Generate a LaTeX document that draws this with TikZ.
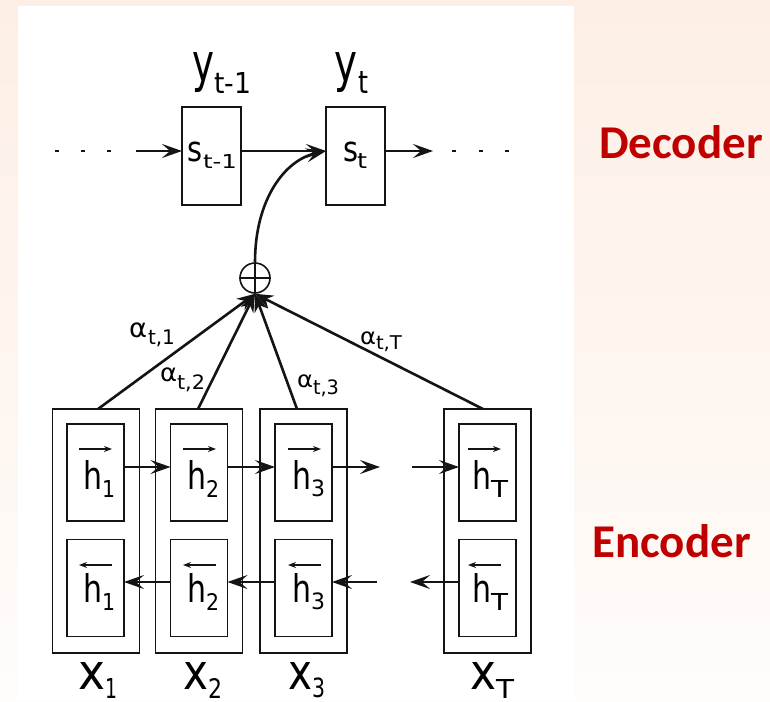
\documentclass[tikz,border=0pt]{standalone}
\usepackage{fontspec}
\setmainfont{DejaVu Sans}
\newfontfamily\carlito{Carlito}
\usetikzlibrary{arrows.meta,calc}
\definecolor{ink}{HTML}{141414}
\definecolor{bgtop}{HTML}{FDEFE5}
\definecolor{bgbot}{HTML}{FFFCFA}
\definecolor{lblred}{HTML}{C00000}
\newcommand\gl[3]{\resizebox*{#1pt}{#2pt}{#3}}
\begin{document}
\begin{tikzpicture}[x=1pt,y=-1pt,
  box/.style={draw=ink, line width=1.9pt, inner sep=0pt, outer sep=0pt},
  sbox/.style={box, minimum width=59pt, minimum height=98pt},
  obox/.style={box, minimum width=87pt, minimum height=244pt},
  ibox/.style={box, minimum width=57pt, minimum height=97pt},
  gly/.style={anchor=south west, inner sep=0pt, outer sep=0pt},
  arr/.style={draw=ink, line width=2.4pt, -{Stealth[length=20pt,width=14pt,inset=8pt]}},
  conv/.style={draw=ink, line width=2.6pt, -{Stealth[length=18pt,width=14pt,inset=6pt]}},
  vec/.style={draw=ink, line width=1.5pt, -{Stealth[length=8pt,width=6pt]}},
  dotst/.style={draw=ink, line width=2.6pt},
  side/.style={anchor=base west, inner sep=0pt, text=lblred, font=\carlito\bfseries\fontsize{47}{47}\selectfont}]
\useasboundingbox (0,0) rectangle (770,701);
\shade[top color=bgtop, bottom color=bgbot] (0,0) rectangle (770,701);
\fill[white] (18,6) rectangle (574,701);

% decoder
\node[sbox] (sA) at (211.5,156) {};
\node[sbox] (sB) at (355.5,156) {};
\node[gly] (lyA) at (192,93) {\gl{22}{40}{y}};
\node[gly] (lyAs) at (214,93) {\gl{37}{21}{t-1}};
\node[gly] (lyB) at (334,93) {\gl{23}{40}{y}};
\node[gly] (lyBs) at (358,93) {\gl{10}{22}{t}};
\node[gly] (lsA) at (187,162) {\gl{15}{20}{s}};
\node[gly] (lsAs) at (203,168) {\gl{34}{14}{t-1}};
\node[gly] (lsB) at (343,162) {\gl{15}{20}{s}};
\node[gly] (lsBs) at (357,168) {\gl{10}{15}{t}};

\coordinate (dl) at (136,151);
\coordinate (dr) at (433,151);
\draw[arr] (dl) -- ([yshift=5pt]sA.west);
\draw[arr] ([yshift=5pt]sA.east) -- ([yshift=5pt]sB.west);
\draw[arr] ([yshift=5pt]sB.east) -- (dr);
\foreach \x in {57,83,109,454,481,507} \draw[dotst] (\x-2,151) -- (\x+2,151);

% plus
\node[circle, draw=ink, line width=1.6pt, minimum size=30pt, inner sep=0pt] (plus) at (255,278) {};
\draw[draw=ink, line width=1.5pt] (plus.north) -- (plus.south) (plus.west) -- (plus.east);
\draw[arr, line width=2.6pt] (plus.north) .. controls +(0,-63) and +(-41,9) .. ([yshift=5pt]sB.west);

% encoder columns
\node[obox] (c1) at (96,531) {};
\node[obox] (c2) at (199,531) {};
\node[obox] (c3) at (303.5,531) {};
\node[obox] (cT) at (487.5,531) {};
\node[ibox] (f1) at (95.5,472.5) {};
\node[ibox] (f2) at (199,472.5) {};
\node[ibox] (f3) at (303.5,472.5) {};
\node[ibox] (fT) at (487.5,472.5) {};
\node[ibox] (b1) at (95.5,588) {};
\node[ibox] (b2) at (199,588) {};
\node[ibox] (b3) at (303.5,588) {};
\node[ibox] (bT) at (487.5,588) {};

% forward / backward arrows
\coordinate (fo) at (380,467);
\coordinate (fi) at (412,467);
\coordinate (bo) at (377,582);
\coordinate (bi) at (410,582);
\draw[arr, line width=2.1pt] ([yshift=5.5pt]f1.east) -- ([yshift=5.5pt]f2.west);
\draw[arr, line width=2.1pt] ([yshift=5.5pt]f2.east) -- ([yshift=5.5pt]f3.west);
\draw[arr, line width=2.1pt] ([yshift=5.5pt]f3.east) -- (fo);
\draw[arr, line width=2.1pt] (fi) -- ([yshift=5.5pt]fT.west);
\draw[arr, line width=2.1pt] ([yshift=6pt]b2.west) -- ([yshift=6pt]b1.east);
\draw[arr, line width=2.1pt] ([yshift=6pt]b3.west) -- ([yshift=6pt]b2.east);
\draw[arr, line width=2.1pt] (bo) -- ([yshift=6pt]b3.east);
\draw[arr, line width=2.1pt] ([yshift=6pt]bT.west) -- (bi);

% converging arrows
\draw[conv] ([xshift=2pt]c1.north) -- (plus.south);
\draw[conv] ([xshift=-1pt]c2.north) -- (plus.south);
\draw[conv] ([xshift=-6.5pt]c3.north) -- (plus.south);
\draw[conv] ([xshift=-4.5pt]cT.north) -- (plus.south);

% alpha labels
\node[gly] (la1) at (129,338) {\gl{18}{15}{α}};
\node[gly] (la1s) at (148,347) {\gl{27}{17}{t,1}};
\node[gly] (la2) at (160,382) {\gl{17}{14}{α}};
\node[gly] (la2s) at (177,392) {\gl{28}{17}{t,2}};
\node[gly] (la3) at (297,388) {\gl{16}{13}{α}};
\node[gly] (la3s) at (313,397) {\gl{26}{17}{t,3}};
\node[gly] (laT) at (360,345) {\gl{16}{13}{α}};
\node[gly] (laTs) at (376,352) {\gl{26}{16}{t,T}};

% h labels
\foreach \n/\hx/\s/\sw in {1/83/1/13, 2/187/2/13, 3/292/3/14, T/472/T/17} {
  \node[gly] (hf\n) at (\hx,489) {\gl{19}{29}{h}};
  \node[gly] (hf\n s) at (\hx+19,497) {\gl{\sw}{17}{\s}};
  \draw[vec] (\hx-4,449) -- (\hx+29,449);
  \node[gly] (hb\n) at (\hx,602) {\gl{19}{29}{h}};
  \node[gly] (hb\n s) at (\hx+19,610) {\gl{\sw}{17}{\s}};
  \draw[vec] (\hx+29,565) -- (\hx-4,565);
}

% x labels
\node[gly] (lx1) at (78,689) {\gl{27}{27}{x}};
\node[gly] (lx1s) at (105,698) {\gl{12}{20}{1}};
\node[gly] (lx2) at (183,689) {\gl{25}{27}{x}};
\node[gly] (lx2s) at (208,698) {\gl{14}{20}{2}};
\node[gly] (lx3) at (288,689) {\gl{24}{27}{x}};
\node[gly] (lx3s) at (312,698) {\gl{13}{20}{3}};
\node[gly] (lxT) at (470,689) {\gl{26}{27}{x}};
\node[gly] (lxTs) at (496,698) {\gl{18}{19}{T}};

% side labels
\node[side] (dec) at (599,158) {Decoder};
\node[side] (enc) at (592,557) {Encoder};
\end{tikzpicture}
\end{document}
